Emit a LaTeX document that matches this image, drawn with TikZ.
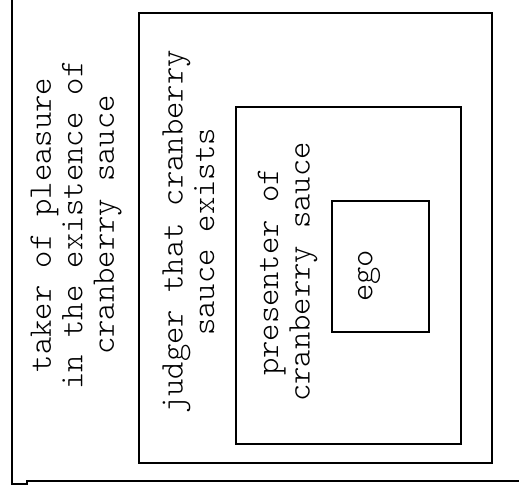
\documentclass[tikz,border=0pt]{standalone}
\usetikzlibrary{positioning}

\begin{document}
\begin{tikzpicture}[
    x=1pt, y=-1pt,
    frame/.style={draw, line width=1.8pt, inner sep=0pt},
    boxtext/.style={font=\ttfamily\fontseries{l}\fontsize{33}{31.5}\selectfont, rotate=90, align=center, inner sep=0pt}
]
\useasboundingbox (0,0) rectangle (519,493);

% outer frame, cut off at the top and the right
\draw[line width=1.8pt] (519,481) -- (27,481) -- (27,484) -- (12,484) -- (12,0);

\node[frame, minimum width=353pt, minimum height=450pt] (judgerbox) at (315.5,238) {};
\node[frame, minimum width=225pt, minimum height=337pt] (presenterbox) at (348.5,275.5) {};
\node[frame, minimum width=97pt, minimum height=131pt] (egobox) at (380.5,266.5) {};

\node[boxtext] (taker) at (76,225) {taker of pleasure\\in the existence of\\cranberry sauce};
\node[boxtext] (judger) at (188.5,232) {judger that cranberry\\sauce exists};
\node[boxtext] (presenter) at (287.5,272) {presenter of\\cranberry sauce};
\node[boxtext] (ego) at (369,276) {ego};

\end{tikzpicture}
\end{document}
